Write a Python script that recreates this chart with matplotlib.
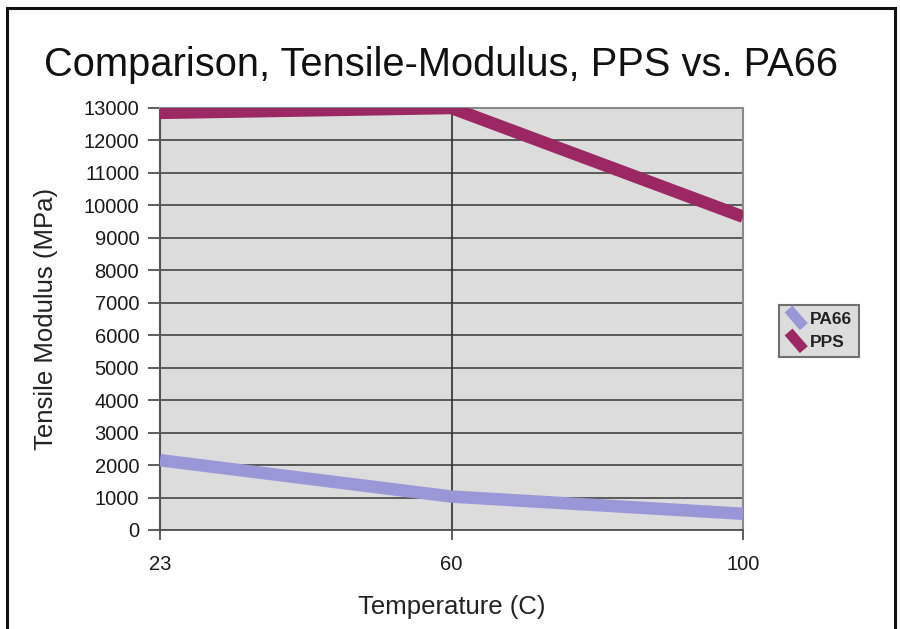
import matplotlib
matplotlib.use("Agg")
import matplotlib.pyplot as plt
from matplotlib.lines import Line2D
from matplotlib.legend_handler import HandlerBase
from matplotlib.patches import Rectangle

plt.rcParams['font.family'] = ['Liberation Sans', 'DejaVu Sans']

# data
temps = ['23', '60', '100']
pa66 = [2150, 1030, 500]
pps = [12850, 13000, 9650]
yticks = list(range(0, 14000, 1000))

col_pa66 = '#9a97d8'
col_pps = '#9b2763'


class DiagHandler(HandlerBase):
    # short slanted bar like the old Excel legend sample
    def create_artists(self, legend, orig, xdescent, ydescent, width, height, fontsize, trans):
        ln = Line2D([-xdescent + 2, -xdescent + width - 2],
                    [-ydescent + height + 2, -ydescent - 2],
                    color=orig.get_color(), lw=7.5, solid_capstyle='butt',
                    transform=trans)
        return [ln]


fig = plt.figure(figsize=(9, 6.29), dpi=100)
ax = fig.add_axes([0.1778, 0.1574, 0.6478, 0.6709])
ax.set_facecolor('#dcdcdc')

x = range(len(temps))
ax.plot(x, pa66, color=col_pa66, lw=9, solid_capstyle='butt', label='PA66', zorder=3)
ax.plot(x, pps, color=col_pps, lw=9, solid_capstyle='butt', label='PPS', zorder=3)

ax.set_xlim(0, len(temps) - 1)
ax.set_ylim(0, 13000)
ax.set_xticks(list(x))
ax.set_xticklabels(temps)
ax.set_yticks(yticks)
ax.set_yticklabels([str(v) for v in yticks])

ax.grid(axis='y', color='#505050', lw=1.3)
ax.axvline(1, color='#303030', lw=1.2, zorder=2)
ax.set_axisbelow(True)

for s in ['top', 'right']:
    ax.spines[s].set_color('#8a8a8a')
    ax.spines[s].set_linewidth(1.5)
ax.spines['left'].set_color('#555555')
ax.spines['left'].set_linewidth(1.5)
ax.spines['bottom'].set_color('#505050')
ax.spines['bottom'].set_linewidth(1.3)

ax.tick_params(axis='y', length=9, width=1.3, color='#505050', pad=6,
               labelsize=14.5, labelcolor='#1a1a1a')
ax.tick_params(axis='x', length=7, width=1.3, color='#505050', pad=11,
               labelsize=14.5, labelcolor='#1a1a1a')

ax.set_xlabel('Temperature (C)', fontsize=18.5, labelpad=15, color='#222222')
ax.set_ylabel('Tensile Modulus (MPa)', fontsize=18.5, labelpad=18, color='#222222')

fig.text(0.49, 0.896, 'Comparison, Tensile-Modulus, PPS vs. PA66',
         ha='center', va='center', fontsize=28.7, color='#111111')

leg = fig.legend(loc='center', bbox_to_anchor=(0.910, 0.474),
                 prop={'size': 12.5, 'weight': 'bold'},
                 handler_map={Line2D: DiagHandler()}, handlelength=1.2,
                 handletextpad=0.2, borderpad=0.4, labelspacing=0.45,
                 fancybox=False, framealpha=1)
leg.get_frame().set_facecolor('#dcdcdc')
leg.get_frame().set_edgecolor('#707070')
leg.get_frame().set_linewidth(1.5)
for t in leg.get_texts():
    t.set_color('#222222')

# outer frame of the picture
fig.patches.append(Rectangle((0.008, -0.02), 0.986, 1.008, transform=fig.transFigure,
                             fill=False, ec='#111111', lw=2.2))

fig.savefig('out.png', dpi=100)
